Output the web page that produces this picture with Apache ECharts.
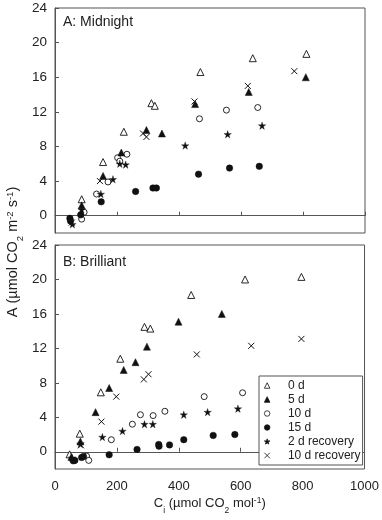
<!DOCTYPE html>
<html>
<head>
<meta charset="utf-8">
<script src="https://cdn.jsdelivr.net/npm/echarts@6/dist/echarts.min.js"></script>
<style>
html,body{margin:0;padding:0;background:#fff;}
#chart{width:382px;height:520px;}
</style>
</head>
<body>
<div id="chart"></div>
<script>
// ---- Data: [Ci (µmol CO2 mol-1), A (µmol CO2 m-2 s-1)] ----
// Panel A: Midnight
const midnight_0d = [[86,1.9],[155,6.2],[222,9.7],[311,13.0],[322,12.7],[469,16.6],[638,18.2],[811,18.7]];
const midnight_5d = [[86,1.2],[155,4.6],[214,7.3],[295,9.9],[345,9.5],[452,12.9],[625,14.3],[809,16.0]];
const midnight_10d = [[86,-0.4],[94,0.4],[134,2.5],[171,3.9],[202,6.7],[209,6.3],[232,7.1],[466,11.2],[553,12.2],[654,12.5]];
const midnight_15d = [[48,-0.3],[50,-0.6],[83,0.1],[149,1.6],[260,2.8],[316,3.2],[327,3.2],[463,4.8],[563,5.5],[659,5.7]];
const midnight_2drec = [[56,-1.0],[86,0.7],[148,2.5],[187,4.2],[209,6.0],[228,5.9],[420,8.1],[557,9.4],[668,10.4]];
const midnight_10drec = [[54,-0.8],[145,4.0],[284,9.5],[295,9.1],[450,13.2],[622,15.0],[772,16.7]];
// Panel B: Brilliant
const brilliant_0d = [[47,-0.3],[80,2.1],[148,6.9],[211,10.8],[289,14.5],[308,14.3],[440,18.2],[614,20.0],[796,20.3]];
const brilliant_5d = [[53,-0.6],[82,1.2],[131,4.6],[175,7.4],[222,9.5],[260,10.4],[297,12.2],[399,15.1],[539,16.0]];
const brilliant_10d = [[102,-0.5],[109,-1.0],[182,1.4],[250,3.2],[276,4.3],[317,4.2],[355,4.7],[482,6.4],[606,6.85]];
const brilliant_15d = [[59,-1.05],[64,-1.0],[86,-0.66],[92,-0.55],[175,-0.35],[265,0.27],[335,0.85],[336,0.65],[370,0.8],[416,1.4],[511,1.9],[581,2.0]];
const brilliant_2drec = [[55,-0.7],[82,0.9],[153,1.7],[218,2.4],[289,3.2],[316,3.2],[416,4.3],[493,4.6],[591,5.0]];
const brilliant_10drec = [[84,0.75],[150,3.5],[198,6.4],[287,8.4],[302,9.0],[458,11.3],[634,12.3],[796,13.1]];

const seriesNames = ['0 d','5 d','10 d','15 d','2 d recovery','10 d recovery'];
const xTicks = [0,200,400,600,800,1000];
const yTicks = [0,4,8,12,16,20,24];
const panelTitles = ['A: Midnight','B: Brilliant'];

// ---- Styling ----
const INK = '#111';
const STAR = 'path://M50,0L61.2,34.5L97.6,34.5L68.2,55.9L79.4,90.5L50,69.1L20.6,90.5L31.8,55.9L2.4,34.5L38.8,34.5Z';
const CROSS = 'path://M0,0L10,10M10,0L0,10';
const markerStyles = [
  {symbol:'triangle', symbolSize:7, itemStyle:{color:'#fff', borderColor:INK, borderWidth:0.9, opacity:1}},
  {symbol:'triangle', symbolSize:7, itemStyle:{color:INK, borderColor:INK, borderWidth:0.5, opacity:1}},
  {symbol:'circle', symbolSize:6, itemStyle:{color:'#fff', borderColor:INK, borderWidth:0.9, opacity:1}},
  {symbol:'circle', symbolSize:6.5, itemStyle:{color:INK, borderColor:INK, borderWidth:0.5, opacity:1}},
  {symbol:STAR, symbolSize:7.5, itemStyle:{color:INK, borderColor:INK, borderWidth:0.3, opacity:1}},
  {symbol:CROSS, symbolSize:6, itemStyle:{color:'rgba(0,0,0,0)', borderColor:INK, borderWidth:1, opacity:1}}
];
const panelData = [
  [midnight_0d, midnight_5d, midnight_10d, midnight_15d, midnight_2drec, midnight_10drec],
  [brilliant_0d, brilliant_5d, brilliant_10d, brilliant_15d, brilliant_2drec, brilliant_10drec]
];

const FONT = 'Liberation Sans, Arial, sans-serif';
const FRAME = '#555';
const grids = [
  {left:55, right:17, top:8, height:225, show:true, borderColor:FRAME, borderWidth:1, containLabel:false},
  {left:55, right:17, top:245, height:224, show:true, borderColor:FRAME, borderWidth:1, containLabel:false}
];

function xAxis(i){
  return {
    type:'value', gridIndex:i, min:0, max:1000, interval:200,
    axisLine:{show:true, lineStyle:{color:FRAME, width:1}},
    axisTick:{show:true, inside:true, length:4, lineStyle:{color:FRAME}},
    axisLabel:{show:i===1, color:'#222', fontSize:13, fontFamily:FONT, margin:11, customValues:xTicks,
      formatter:function(v){return String(v);}},
    splitLine:{show:false},
    name: i===1 ? '{a|C}{s|i}{a| (µmol CO}{s|2}{a| mol}{p|-1}{a|)}' : '',
    nameLocation:'middle', nameGap:25,
    nameTextStyle:{
      rich:{
        a:{fontSize:13, fontFamily:FONT, color:'#222', lineHeight:18, verticalAlign:'middle'},
        s:{fontSize:8.5, fontFamily:FONT, color:'#222', lineHeight:8, verticalAlign:'bottom', padding:[0,0,-3,0]},
        p:{fontSize:8.5, fontFamily:FONT, color:'#222', lineHeight:8, verticalAlign:'top', padding:[2,0,0,0]}
      }
    }
  };
}
function yAxis(i){
  return {
    type:'value', gridIndex:i, min:-2, max:24,
    axisLine:{show:true, lineStyle:{color:FRAME, width:1}},
    axisTick:{show:true, inside:true, length:4, lineStyle:{color:FRAME}, customValues:yTicks},
    axisLabel:{show:true, color:'#222', fontSize:13.5, fontFamily:FONT, margin:8, customValues:yTicks},
    splitLine:{show:false}
  };
}

const series = [];
panelData.forEach((arrs, p) => {
  arrs.forEach((d, k) => {
    series.push(Object.assign({
      type:'scatter', name:seriesNames[k], xAxisIndex:p, yAxisIndex:p, data:d,
      emphasis:{disabled:true}, z: k===2||k===0 ? 2 : 3
    }, JSON.parse(JSON.stringify(markerStyles[k]))));
  });
});

const chart = echarts.init(document.getElementById('chart'), null, {renderer:'canvas'});
chart.setOption({
  animation:false,
  backgroundColor:'#fff',
  grid:grids,
  xAxis:[xAxis(0), xAxis(1)],
  yAxis:[yAxis(0), yAxis(1)],
  legend:{
    data:seriesNames, orient:'vertical', left:259, top:376,
    itemWidth:5.5, itemHeight:5.5, itemGap:1,
    padding:[3,2,3,5],
    borderColor:FRAME, borderWidth:1, backgroundColor:'#fff',
    selectedMode:false,
    itemStyle:{borderWidth:0.8},
    textStyle:{fontSize:12, fontFamily:FONT, color:'#222', padding:[0,0,0,13], lineHeight:13}
  },
  graphic:[
    {type:'text', left:63, top:15, style:{text:panelTitles[0], font:'14px '+FONT, fill:'#222'}},
    {type:'text', left:63, top:255, style:{text:panelTitles[1], font:'14px '+FONT, fill:'#222'}},
    {type:'text', x:13, y:252, rotation:Math.PI/2,
      style:{
        text:'{a|A (µmol CO}{s|2}{a| m}{p|-2}{a| s}{p|-1}{a|)}',
        align:'center', verticalAlign:'middle',
        rich:{
          a:{fontSize:14.5, fontFamily:FONT, fill:'#222', lineHeight:19, verticalAlign:'middle'},
          s:{fontSize:9.5, fontFamily:FONT, fill:'#222', lineHeight:9, verticalAlign:'bottom', padding:[0,0,-3,0]},
          p:{fontSize:9.5, fontFamily:FONT, fill:'#222', lineHeight:9, verticalAlign:'top', padding:[2,0,0,0]}
        }
      }
    }
  ],
  series:series
});
</script>
</body>
</html>
